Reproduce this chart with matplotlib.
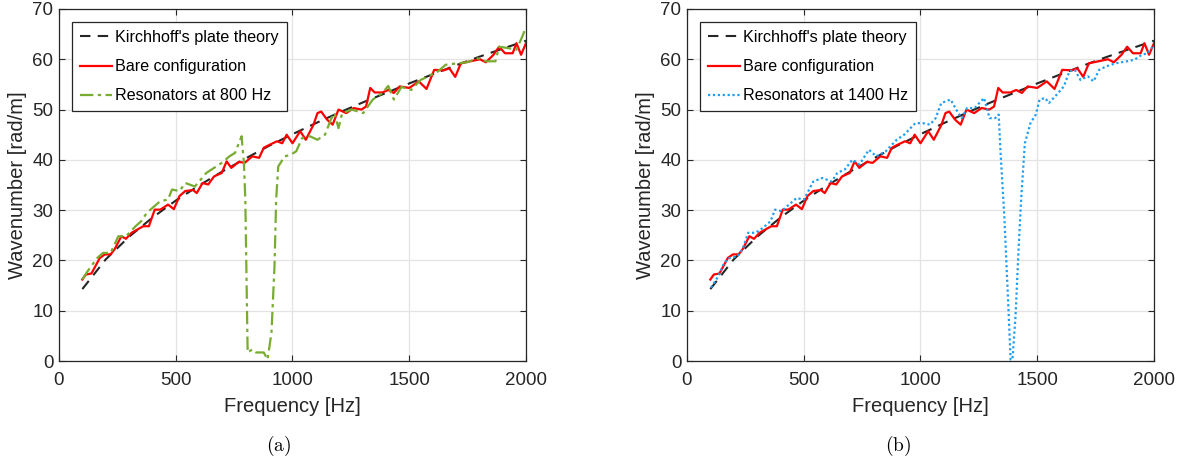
import numpy as np
import matplotlib
matplotlib.use("Agg")
import matplotlib.pyplot as plt

# Daten
# Kirchhoff-Plattentheorie
kirch_f = [100, 200, 300, 400, 500, 600, 700, 800, 900, 1000,
           1100, 1200, 1300, 1400, 1500, 1600, 1700, 1800, 1900, 2000]
kirch_k = [14.3, 20.2, 24.7, 28.5, 31.9, 34.9, 37.7, 40.3, 42.8, 45.1,
           47.3, 49.4, 51.4, 53.3, 55.2, 57.0, 58.8, 60.5, 62.1, 63.7]

# Bare configuration (rot)
bare_f = [100, 115, 139, 175, 197, 221, 238, 267, 287, 311, 361, 385, 410, 434,
          467, 492, 516, 541, 574, 590, 615, 639, 664, 697, 718, 738, 770, 795,
          828, 857, 877, 902, 934, 956, 975, 1000, 1033, 1057, 1090, 1107, 1123,
          1148, 1172, 1197, 1230, 1262, 1295, 1315, 1333, 1352, 1385, 1410, 1434,
          1459, 1500, 1541, 1574, 1607, 1648, 1672, 1697, 1721, 1762, 1803, 1828,
          1861, 1885, 1910, 1943, 1959, 1979, 2000]
bare_k = [16.2, 17.2, 17.4, 20.5, 21.2, 21.2, 22.2, 24.8, 24.3, 25.5, 26.8, 26.8,
          30.1, 30.1, 31.1, 30.2, 32.8, 33.8, 34.0, 33.4, 35.4, 35.1, 36.7, 37.4,
          39.7, 38.4, 39.6, 39.4, 40.7, 40.4, 42.4, 43.0, 43.7, 43.3, 45.0, 43.3,
          45.7, 44.0, 47.0, 49.3, 49.6, 48.0, 47.0, 50.0, 49.3, 50.3, 50.0, 50.6,
          54.3, 53.4, 53.4, 53.9, 53.3, 54.6, 54.3, 55.6, 54.1, 57.9, 57.8, 58.2,
          56.5, 59.2, 59.6, 60.0, 59.4, 60.9, 62.5, 61.2, 61.2, 63.2, 60.9, 63.2]

# Resonatoren bei 800 Hz (grün)
res800_f = [100, 123, 164, 189, 221, 254, 287, 328, 352, 377, 434, 467, 484, 516,
            541, 582, 631, 697, 730, 754, 782, 792, 798, 808, 828, 844, 877, 893,
            910, 923, 930, 939, 967, 992, 1016, 1041, 1074, 1107, 1139, 1164, 1180,
            1197, 1213, 1254, 1303, 1344, 1385, 1410, 1434, 1467, 1508, 1549, 1582,
            1623, 1656, 1705, 1746, 1795, 1828, 1869, 1885, 1926, 1959, 1984, 1995]
res800_k = [16.2, 17.9, 20.5, 21.5, 21.5, 24.8, 24.8, 26.8, 27.8, 29.5, 31.8, 32.1,
            34.1, 33.8, 35.4, 34.7, 37.4, 39.4, 40.7, 41.4, 44.7, 39.4, 32.1, 1.7,
            2.3, 1.7, 1.7, 0.3, 5.6, 18.9, 32.1, 38.7, 40.7, 41.0, 41.7, 44.3, 44.7,
            44.0, 45.0, 48.0, 49.3, 46.3, 49.3, 50.0, 49.3, 52.0, 53.3, 54.7, 52.0,
            54.5, 53.9, 55.9, 56.6, 57.6, 58.9, 59.2, 59.4, 60.2, 59.6, 59.6, 62.5,
            62.2, 61.9, 64.5, 65.8]

# Resonatoren bei 1400 Hz (blau)
res1400_f = [103, 135, 159, 183, 215, 238, 262, 294, 326, 358, 377, 405, 437, 469,
             501, 541, 580, 620, 644, 676, 708, 739, 779, 811, 851, 898, 930, 978,
             1010, 1041, 1065, 1089, 1129, 1153, 1176, 1200, 1232, 1272, 1296, 1320,
             1335, 1343, 1359, 1375, 1386, 1394, 1407, 1420, 1431, 1447, 1471, 1494,
             1510, 1534, 1550, 1582, 1614, 1638, 1661, 1685, 1717, 1741, 1765, 1796,
             1836, 1884, 1916, 1948, 1972, 1995]
res1400_k = [14.6, 16.9, 19.5, 20.5, 20.8, 22.2, 25.5, 25.5, 26.5, 27.8, 30.1, 29.8,
             31.1, 32.4, 32.1, 35.7, 36.4, 35.7, 37.4, 38.1, 40.0, 39.1, 42.0, 40.7,
             41.7, 44.0, 45.0, 47.3, 47.3, 47.0, 48.3, 51.3, 52.0, 50.0, 48.3, 50.3,
             50.3, 52.3, 48.3, 48.3, 49.0, 41.4, 28.8, 12.2, 0.3, 0.3, 8.9, 22.2,
             32.1, 43.3, 47.3, 49.0, 52.0, 52.3, 51.3, 52.9, 54.6, 57.6, 57.9, 55.9,
             56.6, 55.6, 57.9, 58.6, 59.2, 59.6, 59.9, 60.9, 61.2, 62.5]

plt.rcParams['font.family'] = ['Liberation Sans', 'DejaVu Sans']
plt.rcParams['mathtext.fontset'] = 'cm'

fig = plt.figure(figsize=(11.82, 4.66), dpi=100)
ax1 = fig.add_axes([0.0499, 0.2253, 0.3951, 0.7554])
ax2 = fig.add_axes([0.5812, 0.2253, 0.3951, 0.7554])

panels = [
    (ax1, res800_f, res800_k, "Resonators at 800 Hz", "#77ac30", (0, (6, 2, 1.5, 2))),
    (ax2, res1400_f, res1400_k, "Resonators at 1400 Hz", "#1e9ef0", (0, (1, 1.2))),
]

for ax, rf, rk, lab, col, ls in panels:
    ax.plot(kirch_f, kirch_k, color="#262626", linestyle=(0, (5, 3.5)), lw=1.5,
            label="Kirchhoff's plate theory")
    ax.plot(bare_f, bare_k, color="red", lw=1.6, label="Bare configuration")
    ax.plot(rf, rk, color=col, linestyle=ls, lw=1.6, label=lab)
    ax.set_xlim(0, 2000)
    ax.set_ylim(0, 70)
    ax.set_xticks([0, 500, 1000, 1500, 2000])
    ax.set_yticks(range(0, 71, 10))
    ax.grid(True, color="#e3e3e3", lw=0.9)
    ax.set_axisbelow(True)
    ax.tick_params(direction="in", top=True, right=True, labelsize=13.5,
                   colors="#262626", length=4)
    ax.tick_params(axis="x", pad=8)
    ax.tick_params(axis="y", pad=4)
    for s in ax.spines.values():
        s.set_color("#262626")
        s.set_linewidth(0.9)
    ax.set_xlabel("Frequency [Hz]", fontsize=14.5, color="#262626", labelpad=6)
    ax.set_ylabel("Wavenumber [rad/m]", fontsize=14.5, color="#262626", labelpad=4)
    leg = ax.legend(loc="upper left", bbox_to_anchor=(0.027, 0.963), fontsize=11.6,
                    frameon=True, fancybox=False, edgecolor="#262626",
                    handlelength=2.0, handletextpad=0.2, borderpad=0.5,
                    labelspacing=0.88, borderaxespad=0.0)
    leg.get_frame().set_linewidth(0.9)
    leg.get_frame().set_alpha(1)

fig.text(0.236, 0.043, r"$\mathrm{(a)}$", ha="center", va="center", fontsize=14)
fig.text(0.760, 0.043, r"$\mathrm{(b)}$", ha="center", va="center", fontsize=14)

fig.savefig("out.png", dpi=100)
